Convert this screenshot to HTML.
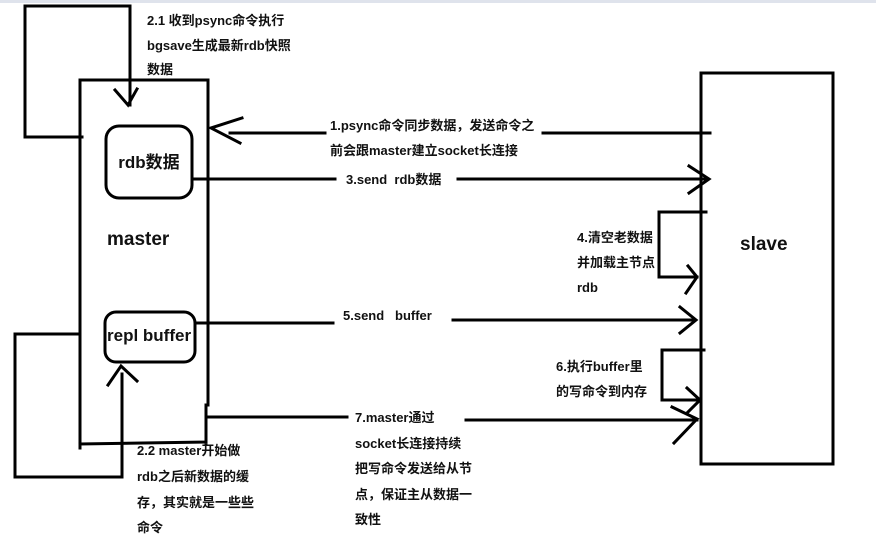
<!DOCTYPE html>
<html><head><meta charset="utf-8"><style>
body{margin:0;background:#fff}
svg{display:block}
text{font-family:"Liberation Sans","Noto Sans CJK SC",sans-serif;font-weight:bold;fill:#111}
.s{font-size:13px}
</style></head><body>
<svg width="876" height="540" viewBox="0 0 876 540">
<rect x="0" y="0" width="876" height="3" fill="#dfe3ec"/>
<g fill="none" stroke="#000" stroke-width="3" stroke-linecap="square">
<!-- master -->
<path d="M80 80 H208 V405 M206 405 V443 M80 80 V448 M80 444 L206 442"/>
<!-- top loop -->
<path d="M82 137 H25 V6 H130 V105"/>
<path d="M115 90 L128 105 L137 89"/>
<!-- rdb box -->
<rect x="106" y="126" width="86" height="72" rx="13"/>
<!-- repl buffer box -->
<rect x="105" y="312" width="90" height="50" rx="11"/>
<!-- bottom loop -->
<path d="M80 334 H15 V477 H122 V374"/>
<path d="M108 385 L121 366 L137 381"/>
<!-- arrow 1 -->
<path d="M230 133 H325 M543 133 H710"/>
<path d="M242 118 L211 128 L240 143"/>
<!-- arrow 3 -->
<path d="M193 179 H335 M458 179 H708"/>
<path d="M689 166 L709 179 L689 193"/>
<!-- slave -->
<rect x="701" y="73" width="132" height="391"/>
<!-- loop 4 -->
<path d="M706 212 H659 V277 H697"/>
<path d="M688 266 L697 277 L686 293"/>
<!-- arrow 5 -->
<path d="M195 323 H333 M453 320 H695"/>
<path d="M680 307 L696 320 L680 333"/>
<!-- loop 6 -->
<path d="M704 350 H662 V400 H700"/>
<path d="M687 388 L700 400 L688 412"/>
<!-- arrow 7 -->
<path d="M207 417 H347 M466 420 H697"/>
<path d="M672 407 L697 419 L674 443"/>
</g>
<text x="149" y="168" font-size="17" text-anchor="middle">rdb数据</text>
<text x="107" y="245" font-size="19">master</text>
<text x="107" y="341" font-size="17">repl buffer</text>
<text x="740" y="250" font-size="19">slave</text>
<g class="s">
<text x="147" y="25">2.1 收到psync命令执行</text>
<text x="147" y="50">bgsave生成最新rdb快照</text>
<text x="147" y="74">数据</text>
<text x="330" y="130">1.psync命令同步数据，发送命令之</text>
<text x="330" y="155">前会跟master建立socket长连接</text>
<text x="346" y="184">3.send&#160;&#160;rdb数据</text>
<text x="577" y="242">4.清空老数据</text>
<text x="577" y="267">并加载主节点</text>
<text x="577" y="292">rdb</text>
<text x="343" y="320">5.send&#160;&#160;&#160;buffer</text>
<text x="556" y="371">6.执行buffer里</text>
<text x="556" y="396">的写命令到内存</text>
<text x="355" y="422">7.master通过</text>
<text x="355" y="448">socket长连接持续</text>
<text x="355" y="473">把写命令发送给从节</text>
<text x="355" y="499">点，保证主从数据一</text>
<text x="355" y="524">致性</text>
<text x="137" y="455">2.2 master开始做</text>
<text x="137" y="481">rdb之后新数据的缓</text>
<text x="137" y="507">存，其实就是一些些</text>
<text x="137" y="532">命令</text>
</g>
</svg>
</body></html>
